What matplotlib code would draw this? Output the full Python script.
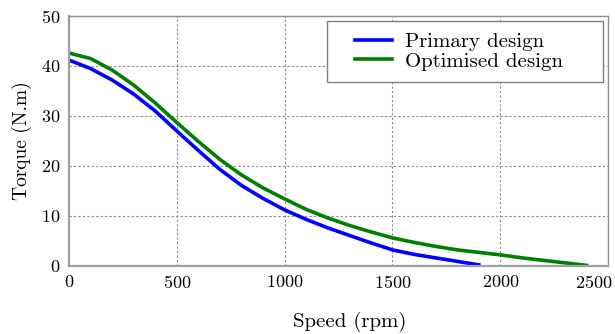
import matplotlib
matplotlib.use("Agg")
import matplotlib.pyplot as plt
from matplotlib.transforms import ScaledTranslation
from matplotlib.patches import Rectangle

plt.rcParams['font.family'] = 'serif'
plt.rcParams['font.serif'] = ['cmr10', 'DejaVu Serif']
plt.rcParams['mathtext.fontset'] = 'cm'
plt.rcParams['axes.formatter.use_mathtext'] = True

speed_primary = [0, 100, 200, 300, 400, 500, 600, 700, 800, 900, 1000, 1100, 1200,
                 1300, 1400, 1500, 1600, 1700, 1800, 1900]
torque_primary = [41.2, 39.5, 37.2, 34.4, 31.0, 27.0, 23.1, 19.3, 16.1, 13.5, 11.2, 9.3,
                  7.6, 6.1, 4.6, 3.2, 2.3, 1.6, 0.9, 0.2]

speed_opt = [0, 100, 200, 300, 400, 500, 600, 700, 800, 900, 1000, 1100, 1200, 1300,
             1400, 1500, 1600, 1700, 1800, 1900, 2000, 2100, 2200, 2300, 2400]
torque_opt = [42.6, 41.5, 39.2, 36.2, 32.6, 28.7, 24.9, 21.3, 18.2, 15.6, 13.4, 11.3,
              9.6, 8.1, 6.8, 5.6, 4.7, 3.9, 3.2, 2.7, 2.2, 1.6, 1.1, 0.6, 0.1]

xticks = [0, 500, 1000, 1500, 2000, 2500]
yticks = [0, 10, 20, 30, 40, 50]

fig = plt.figure(figsize=(6.15, 3.34), dpi=100)
ax = fig.add_axes([0.112, 0.204, 0.877, 0.748])

ax.plot(speed_primary, torque_primary, color='#0000ff', lw=2.6, label='Primary design')
ax.plot(speed_opt, torque_opt, color='#008000', lw=2.6, label='Optimised design')

ax.set_xlim(0, 2500)
ax.set_ylim(0, 50)
ax.set_xticks(xticks)
ax.set_yticks(yticks)
ax.tick_params(axis='both', labelsize=13, length=0, pad=6)
ax.grid(True, linestyle=(0, (2, 2)), color='#888888', lw=0.8)

# last x tick label shifted left to stay inside the figure, as in the reference
last = ax.get_xticklabels()[-1]
last.set_transform(last.get_transform() + ScaledTranslation(-15 / 100, 0, fig.dpi_scale_trans))

for s in ['left', 'bottom']:
    ax.spines[s].set_color('#a0a0a0')
    ax.spines[s].set_linewidth(1.6)
for s in ['top', 'right']:
    ax.spines[s].set_color('#909090')
    ax.spines[s].set_linewidth(1.0)

ax.set_xlabel('Speed (rpm)', fontsize=15)
ax.xaxis.set_label_coords(0.52, -0.185)
ax.set_ylabel('Torque (N.m)', fontsize=14)
ax.yaxis.set_label_coords(-0.069, 0.5)

# legend frame (drawn as a box in axes coordinates)
frame = Rectangle((0.479, 0.736), 0.512, 0.244, transform=ax.transAxes,
                  facecolor='white', edgecolor='#808080', lw=1.0, zorder=4)
ax.add_patch(frame)
leg = ax.legend(loc='center left', fontsize=15, frameon=False,
                handlelength=1.75, handletextpad=0.65,
                borderpad=0, labelspacing=0.05, borderaxespad=0,
                bbox_to_anchor=(0.531, 0.858))
leg.set_zorder(5)

fig.savefig('out.png', dpi=100)
